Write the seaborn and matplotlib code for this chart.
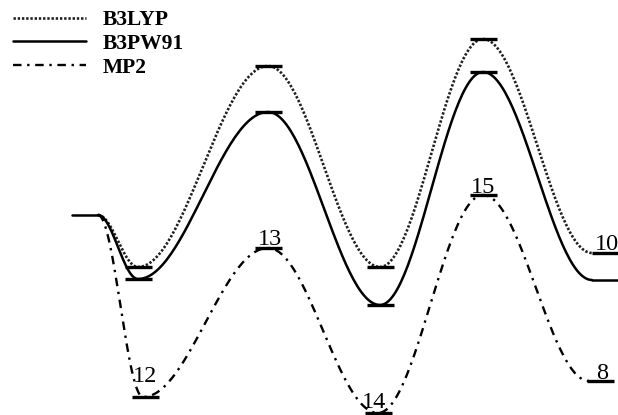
import numpy as np
import matplotlib
matplotlib.use("Agg")
import matplotlib.pyplot as plt
import seaborn as sns

# ── Data: relative energies of the stationary points ────────────────────────
methods = ["B3LYP", "B3PW91", "MP2"]
species = ["start", "12", "13", "14", "15", "end"]
e_b3lyp = [0.0, -10.4, 29.8, -10.4, 35.2, -7.6]
e_b3pw91 = [0.0, -12.8, 20.6, -18.0, 28.6, -13.0]
e_mp2 = [0.0, -36.4, -6.6, -39.6, 4.0, -33.2]
mp2_labels = ["12", "13", "14", "15", "8"]
end_label_b3lyp = "10"

# reaction-coordinate positions (x) of each point, per method
x_dft = [98, 138, 268, 380, 483, 592]
x_mp2 = [98, 143, 268, 378, 483, 589]

sns.set_style("white")
plt.rcParams["font.family"] = ["Liberation Serif", "DejaVu Serif"]
plt.rcParams["text.color"] = "black"


def smooth_path(xs, ys, n=60):
    # cosine easing between consecutive stationary points
    px, py = [], []
    for i in range(len(xs) - 1):
        t = np.linspace(0, 1, n)
        w = (1 - np.cos(np.pi * t)) / 2
        px.extend(xs[i] + (xs[i + 1] - xs[i]) * t)
        py.extend(ys[i] + (ys[i + 1] - ys[i]) * w)
    return np.array(px), np.array(py)


fig = plt.figure(figsize=(6.18, 4.15), dpi=100)
ax = fig.add_axes([0, 0, 1, 1])

styles = {
    "B3LYP": dict(color="#202020", lw=1.9, ls=(0, (0.9, 0.7))),
    "B3PW91": dict(color="black", lw=1.8, ls="-"),
    "MP2": dict(color="black", lw=1.7, ls=(0, (3.6, 2.4, 1.0, 2.4))),
}

series = {"B3LYP": (x_dft, e_b3lyp), "B3PW91": (x_dft, e_b3pw91), "MP2": (x_mp2, e_mp2)}
for m in methods:
    xs, ys = series[m]
    px, py = smooth_path(xs, ys)
    sns.lineplot(x=px, y=py, ax=ax, sort=False, estimator=None,
                 color=styles[m]["color"], linewidth=styles[m]["lw"],
                 linestyle=styles[m]["ls"], label=m)

# starting plateau and B3PW91 final plateau
ax.plot([72, 98], [e_b3pw91[0], e_b3pw91[0]], color="black", lw=1.8)
ax.plot([592, 618], [e_b3pw91[-1], e_b3pw91[-1]], color="black", lw=1.8)

# level bars
bar_w = 27
bar_kw = dict(color="black", lw=2.4, solid_capstyle="butt")
for xc, e in zip([138, 268, 380, 483], e_b3lyp[1:5]):
    ax.plot([xc - bar_w / 2, xc + bar_w / 2], [e, e], **bar_kw)
for xc, e in zip([138, 268, 380, 483], e_b3pw91[1:5]):
    ax.plot([xc - bar_w / 2, xc + bar_w / 2], [e, e], **bar_kw)
ax.plot([592, 618], [e_b3lyp[-1], e_b3lyp[-1]], **bar_kw)

mp2_bar_x = [145, 268, 378, 483, 600]
for xc, e in zip(mp2_bar_x, e_mp2[1:]):
    ax.plot([xc - bar_w / 2, xc + bar_w / 2], [e, e], **bar_kw)

# species labels
label_x = [145, 270, 374, 483, 602]
label_dy = [3.0, 0.7, 1.1, 0.5, 0.5]
for lab, xc, e, dy in zip(mp2_labels, label_x, e_mp2[1:], label_dy):
    ax.text(xc, e + dy, lab, ha="center", va="baseline", fontsize=17.5)
ax.text(607, e_b3lyp[-1] + 0.6, end_label_b3lyp, ha="center", va="baseline", fontsize=17.5)

ax.set_xlim(0, 618)
ax.set_ylim(-40, 43)
ax.axis("off")

leg = ax.legend(loc="upper left", bbox_to_anchor=(13 / 618, 1 - 10 / 415),
                frameon=False, borderpad=0, borderaxespad=0, handlelength=3.4,
                handletextpad=0.75, labelspacing=0.18,
                prop={"family": "Liberation Serif", "weight": "bold", "size": 15.5})
for t in leg.get_texts():
    t.set_color("black")

fig.savefig("out.png", dpi=100)
